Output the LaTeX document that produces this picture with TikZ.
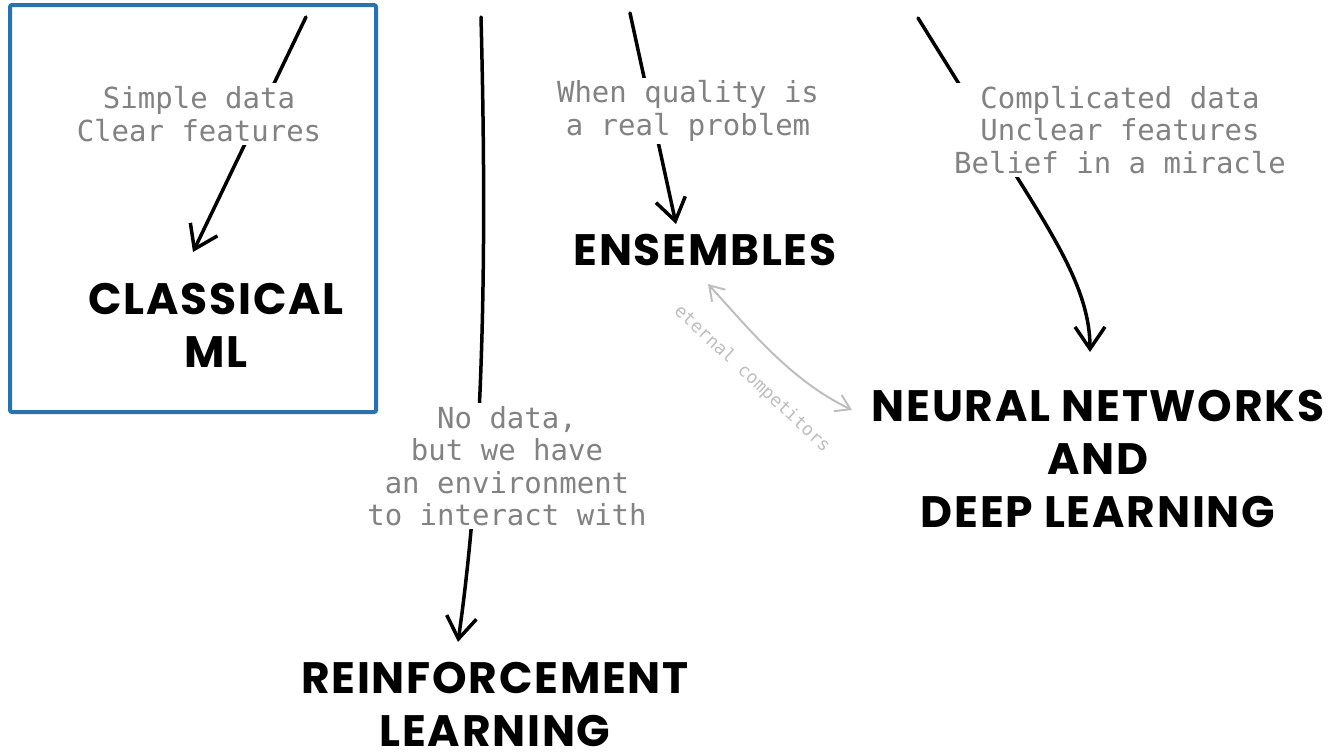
\documentclass[tikz,border=0pt]{standalone}
\usepackage{fontspec}
\setmainfont{Poppins}
\newfontfamily\titlefont{Poppins}[LetterSpace=4]
\newfontfamily\handfont{DejaVu Sans Mono}
\usetikzlibrary{arrows.meta}
\definecolor{boxblue}{RGB}{42,114,170}
\definecolor{notegray}{RGB}{130,130,130}
\definecolor{faintgray}{RGB}{190,190,190}
\begin{document}
\begin{tikzpicture}[x=1pt,y=-1pt,
  title/.style={font=\titlefont\fontsize{44}{53}\selectfont\bfseries, align=center, inner sep=0pt},
  note/.style={font=\handfont\fontsize{29}{32.5}\selectfont, text=notegray, align=center, fill=white, inner sep=3pt},
  arr/.style={line width=3.5pt, line cap=round, -{Straight Barb[length=22pt,width=30pt,line width=3.5pt]}},
  rival/.style={faintgray, line width=2pt, {Straight Barb[length=14pt,width=18pt]}-{Straight Barb[length=14pt,width=18pt]}},
]
\useasboundingbox (0,0) rectangle (1341,753);

% coordinates of free ends
\coordinate (cS) at (306,17);  \coordinate (cE) at (193,252);
\coordinate (rS) at (481,17);  \coordinate (rE) at (458,642);
\coordinate (eS) at (630,13);  \coordinate (eE) at (676,224);
\coordinate (nS) at (918,18);  \coordinate (nE) at (1090,352);
\coordinate (aS) at (708,284); \coordinate (aE) at (852,410);

% connectors
\draw[arr] (cS) -- (cE);
\draw[arr] (rS) .. controls (487,250) and (484,460) .. (rE);
\draw[arr] (eS) -- (eE);
\draw[arr] (nS) -- (1030,198) .. controls (1065,255) and (1090,300) .. (nE);
\draw[rival] (aS) .. controls (750,330) and (790,380) .. (aE);

% labels on connectors
\node[note] (cL) at (199,114) {Simple data\\Clear features};
\node[note] (rL) at (507,466) {No data,\\but we have\\an environment\\to interact with};
\node[note] (eL) at (688,111) {When quality is\\a real problem};
\node[note] (nL) at (1120,130) {Complicated data\\Unclear features\\Belief in a miracle};
\node[rotate=-43, font=\handfont\fontsize{18}{18}\selectfont, text=faintgray] (aL) at (752,379) {eternal competitors};

% blue frame
\draw[boxblue, line width=4pt, rounded corners=2pt] (10,5) rectangle (376,412);

% titles
\node[title] (classical) at (216,325) {CLASSICAL\\ML};
\node[title] (ens) at (705,250) {ENSEMBLES};
\node[title] (nn) at (1098,459) {NEURAL NETWORKS\\AND\\DEEP LEARNING};
\node[title] (rl) at (495,704) {REINFORCEMENT\\LEARNING};
\end{tikzpicture}
\end{document}
